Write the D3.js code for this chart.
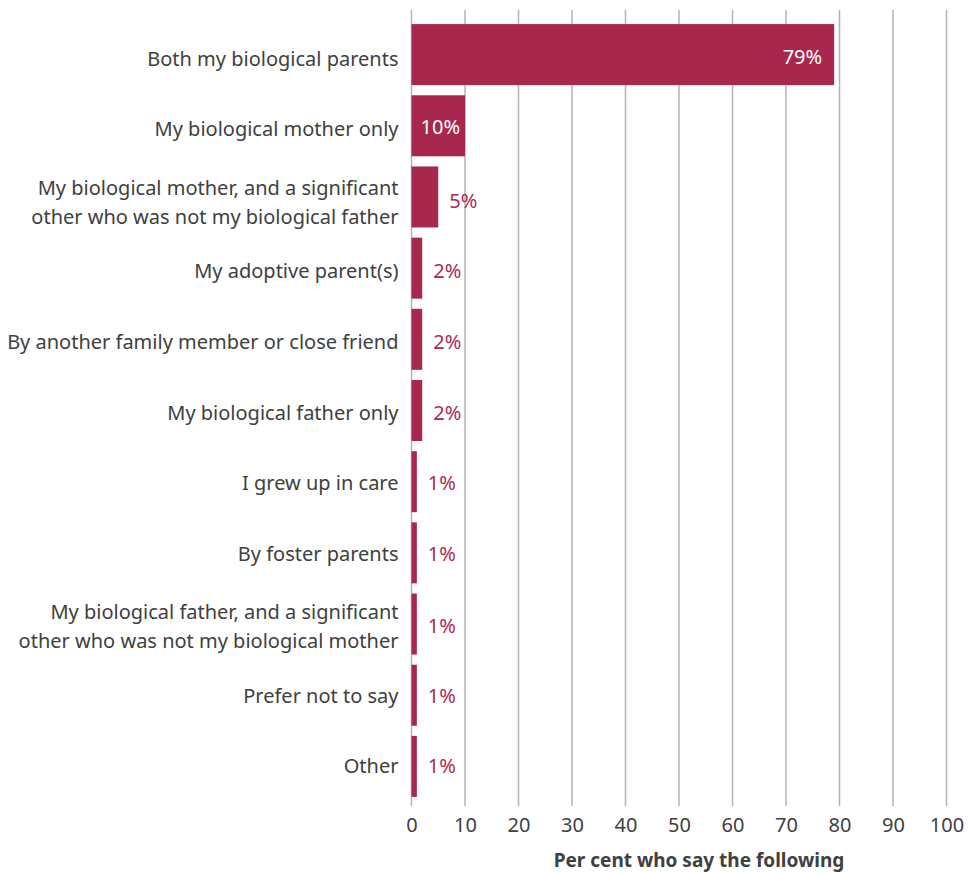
<!DOCTYPE html>
<html>
<head>
<meta charset="utf-8">
<script src="https://cdn.jsdelivr.net/npm/d3@7"></script>
<style>
  body { margin: 0; background: #fff; }
  svg { display: block; }
  text { font-family: "Noto Sans", sans-serif; }
</style>
</head>
<body>
<svg id="chart" width="970" height="872"></svg>
<script>
// Who respondents grew up with
const categories = [
  ["Both my biological parents"],
  ["My biological mother only"],
  ["My biological mother, and a significant", "other who was not my biological father"],
  ["My adoptive parent(s)"],
  ["By another family member or close friend"],
  ["My biological father only"],
  ["I grew up in care"],
  ["By foster parents"],
  ["My biological father, and a significant", "other who was not my biological mother"],
  ["Prefer not to say"],
  ["Other"]
];
const values = [79, 10, 5, 2, 2, 2, 1, 1, 1, 1, 1];
const tickValues = [0, 10, 20, 30, 40, 50, 60, 70, 80, 90, 100];
const axisTitle = "Per cent who say the following";

const barColor = "#a8274d";
const labelColor = "#ad2a55";
const textColor = "#404040";
const fontSize = 20;

const svg = d3.select("#chart");
const W = 970;
const plotTop = 19, plotBottom = 802;

const x = d3.scaleLinear().domain([0, 100]).range([411.5, W - 23.5]);
const y = d3.scaleBand()
  .domain(d3.range(categories.length))
  .range([plotTop, plotBottom])
  .paddingInner(0.143)
  .paddingOuter(0.0715);

// text rows sit on a slightly tighter pitch than the bars
const textY = d3.scaleLinear()
  .domain([0, categories.length - 1])
  .range([y(0) + y.bandwidth() / 2 + 4, y(categories.length - 1) + y.bandwidth() / 2]);

// vertical gridlines
svg.append("g")
  .selectAll("line")
  .data(tickValues)
  .join("line")
  .attr("x1", d => x(d)).attr("x2", d => x(d))
  .attr("y1", 10).attr("y2", 806)
  .attr("stroke", "#b3b3b3")
  .attr("stroke-width", 1.5);

// bars
svg.append("g")
  .selectAll("rect")
  .data(values)
  .join("rect")
  .attr("x", x(0))
  .attr("y", (d, i) => y(i))
  .attr("width", d => x(d) - x(0))
  .attr("height", y.bandwidth())
  .attr("fill", barColor);

// value labels: inside for long bars, outside for short ones
const inside = d => d >= 10;
svg.append("g")
  .selectAll("text")
  .data(values)
  .join("text")
  .attr("x", d => inside(d) ? (d >= 50 ? x(d) - 12 : x(0) + 9) : x(d) + 11)
  .attr("y", (d, i) => textY(i) - (inside(d) ? 2 : 0) + (categories[i].length > 1 ? 1 : 0))
  .attr("dy", "0.35em")
  .attr("text-anchor", d => inside(d) && d >= 50 ? "end" : "start")
  .attr("fill", d => inside(d) ? "#fff" : labelColor)
  .attr("font-size", fontSize)
  .text(d => d + "%");

// category labels
const lineGap = 29;
const catG = svg.append("g")
  .selectAll("text")
  .data(categories)
  .join("text")
  .attr("text-anchor", "end")
  .attr("fill", textColor)
  .attr("font-size", fontSize);
catG.selectAll("tspan")
  .data((d, i) => d.map((t, j) => ({ t, j, n: d.length, i })))
  .join("tspan")
  .attr("x", x(0) - 13)
  .attr("y", d => textY(d.i) + (d.n > 1 ? 2 : 0) + (d.j - (d.n - 1) / 2) * lineGap)
  .attr("dy", "0.35em")
  .text(d => d.t);

// x axis
const axis = d3.axisBottom(x).tickValues(tickValues).tickSize(0).tickPadding(0);
const ax = svg.append("g")
  .attr("transform", "translate(0, 825)")
  .call(axis);
ax.select(".domain").remove();
ax.selectAll("text")
  .attr("fill", textColor)
  .attr("font-size", fontSize)
  .attr("font-family", "Noto Sans, sans-serif")
  .attr("dy", "0.35em")
  .attr("y", 0);

svg.append("text")
  .attr("x", 699)
  .attr("y", 867)
  .attr("text-anchor", "middle")
  .attr("fill", textColor)
  .attr("font-size", 19)
  .attr("font-weight", "bold")
  .text(axisTitle);
</script>
</body>
</html>
